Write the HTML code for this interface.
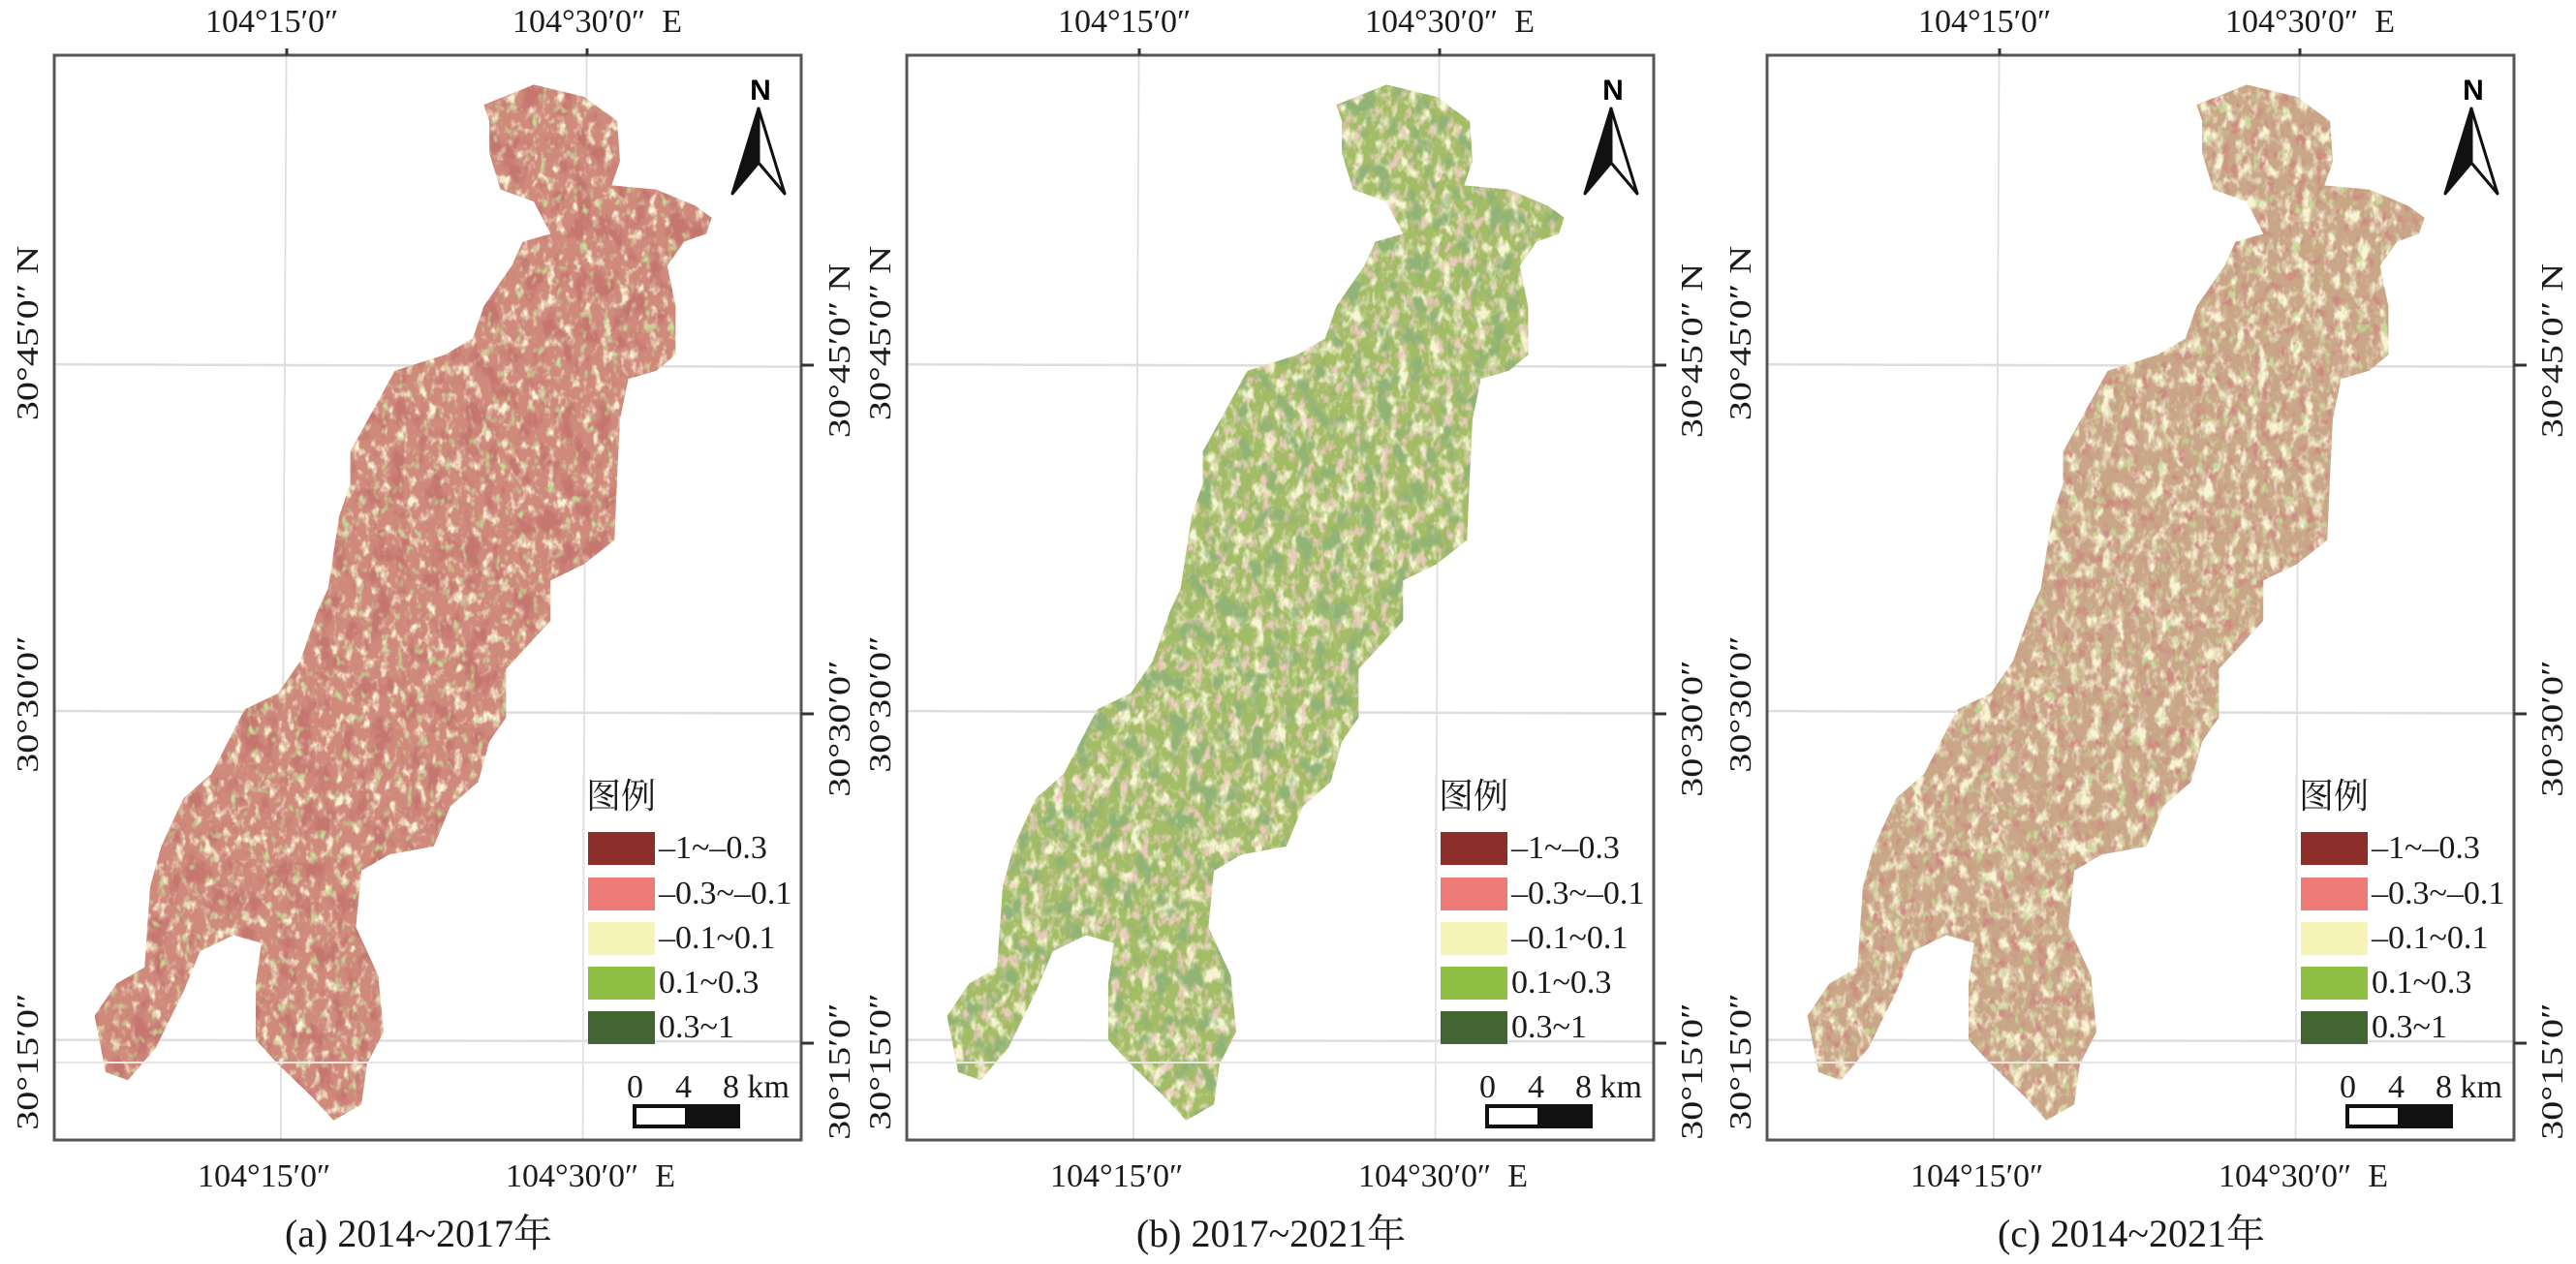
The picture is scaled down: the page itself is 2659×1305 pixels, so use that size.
<!DOCTYPE html>
<html><head><meta charset="utf-8"><style>
html,body{margin:0;padding:0;background:#fff;}
body{width:2659px;height:1305px;position:relative;overflow:hidden;font-family:"Liberation Serif","Noto Serif CJK SC",serif;color:#1a1a1a;}
.p{position:absolute;top:0;width:900px;height:1305px;}
.p svg{position:absolute;left:0;top:0;}
.t{position:absolute;font-size:32px;white-space:nowrap;line-height:1;}
.r{position:absolute;font-size:32px;white-space:nowrap;line-height:1;transform:translate(-50%,-50%) rotate(-90deg) scaleX(1.25);}
.sw{position:absolute;left:607px;width:69px;height:34px;}
.lt{position:absolute;left:680px;font-size:34px;line-height:34px;white-space:nowrap;}
</style></head><body>

<svg width="0" height="0" style="position:absolute">
<defs>
<clipPath id="shape"><path d="M870,130 L960,105 L1050,120 L1110,150 L1115,200 L1100,230 L1180,235 L1250,255 L1280,270 L1270,290 L1230,300 L1200,330 L1215,380 L1215,440 L1180,460 L1130,470 L1115,520 L1110,590 L1105,670 L1050,700 L990,720 L990,770 L950,800 L910,830 L910,890 L880,920 L860,970 L810,1000 L780,1050 L700,1060 L650,1080 L640,1150 L680,1210 L690,1280 L660,1320 L650,1370 L600,1390 L560,1360 L500,1320 L460,1290 L460,1220 L470,1170 L420,1160 L360,1180 L330,1230 L280,1300 L230,1340 L190,1330 L170,1260 L210,1220 L260,1200 L270,1100 L290,1050 L330,990 L380,960 L410,920 L440,880 L500,860 L540,820 L570,760 L590,730 L610,640 L630,600 L630,560 L670,510 L710,460 L800,440 L850,420 L870,380 L920,330 L940,300 L990,290 L960,250 L900,235 L880,190 L880,150 Z"/></clipPath>
<filter id="fa1" x="0" y="0" width="1" height="1"><feTurbulence type="fractalNoise" baseFrequency="0.03" numOctaves="3" seed="3"/><feColorMatrix type="matrix" values="0 0 0 0 0.56 0 0 0 0 0.18 0 0 0 0 0.16 5 0 0 0 -2.55"/></filter>
<filter id="fa2" x="0" y="0" width="1" height="1"><feTurbulence type="fractalNoise" baseFrequency="0.06" numOctaves="3" seed="8"/><feColorMatrix type="matrix" values="0 0 0 0 0.93 0 0 0 0 0.90 0 0 0 0 0.66 4 0 0 0 -2.1"/></filter>
<filter id="fa3" x="0" y="0" width="1" height="1"><feTurbulence type="fractalNoise" baseFrequency="0.07" numOctaves="2" seed="13"/><feColorMatrix type="matrix" values="0 0 0 0 0.55 0 0 0 0 0.72 0 0 0 0 0.30 4 0 0 0 -2.4"/></filter>
<filter id="fb1" x="0" y="0" width="1" height="1"><feTurbulence type="fractalNoise" baseFrequency="0.035" numOctaves="3" seed="5"/><feColorMatrix type="matrix" values="0 0 0 0 0.28 0 0 0 0 0.45 0 0 0 0 0.18 5 0 0 0 -2.6"/></filter>
<filter id="fb2" x="0" y="0" width="1" height="1"><feTurbulence type="fractalNoise" baseFrequency="0.06" numOctaves="3" seed="9"/><feColorMatrix type="matrix" values="0 0 0 0 0.85 0 0 0 0 0.58 0 0 0 0 0.53 4 0 0 0 -2.1"/></filter>
<filter id="fc1" x="0" y="0" width="1" height="1"><feTurbulence type="fractalNoise" baseFrequency="0.05" numOctaves="3" seed="4"/><feColorMatrix type="matrix" values="0 0 0 0 0.93 0 0 0 0 0.91 0 0 0 0 0.66 4 0 0 0 -1.9"/></filter>
<filter id="fc2" x="0" y="0" width="1" height="1"><feTurbulence type="fractalNoise" baseFrequency="0.06" numOctaves="3" seed="11"/><feColorMatrix type="matrix" values="0 0 0 0 0.62 0 0 0 0 0.25 0 0 0 0 0.22 4 0 0 0 -2.2"/></filter>
</defs></svg>

<div class="p" style="left:0px">
<svg width="900" height="1305" viewBox="0 0 1568 1568" preserveAspectRatio="none">
<line x1="515" y1="62" x2="505" y2="1413" stroke="#ddd" stroke-width="3"/>
<line x1="1055" y1="62" x2="1048" y2="1413" stroke="#ddd" stroke-width="3"/>
<line x1="97" y1="452" x2="1443" y2="455" stroke="#ddd" stroke-width="3"/>
<line x1="97" y1="882" x2="1443" y2="885" stroke="#ddd" stroke-width="3"/>
<line x1="97" y1="1290" x2="1443" y2="1292" stroke="#ddd" stroke-width="3"/>
<g clip-path="url(#shape)">
<rect x="0" y="0" width="1568" height="1568" fill="#cf8a7c"/>
<rect x="0" y="0" width="1568" height="1568" filter="url(#fa2)"/>
<rect x="0" y="0" width="1568" height="1568" filter="url(#fa1)"/>
<rect x="0" y="0" width="1568" height="1568" filter="url(#fa3)"/>
</g>
</svg>
</div>
<div class="p" style="left:880px">
<svg width="900" height="1305" viewBox="0 0 1568 1568" preserveAspectRatio="none">
<line x1="515" y1="62" x2="505" y2="1413" stroke="#ddd" stroke-width="3"/>
<line x1="1055" y1="62" x2="1048" y2="1413" stroke="#ddd" stroke-width="3"/>
<line x1="97" y1="452" x2="1443" y2="455" stroke="#ddd" stroke-width="3"/>
<line x1="97" y1="882" x2="1443" y2="885" stroke="#ddd" stroke-width="3"/>
<line x1="97" y1="1290" x2="1443" y2="1292" stroke="#ddd" stroke-width="3"/>
<g clip-path="url(#shape)">
<rect x="0" y="0" width="1568" height="1568" fill="#a3bc66"/>
<rect x="0" y="0" width="1568" height="1568" filter="url(#fc1)"/>
<rect x="0" y="0" width="1568" height="1568" filter="url(#fb2)"/>
<rect x="0" y="0" width="1568" height="1568" filter="url(#fb1)"/>
</g>
</svg>
</div>
<div class="p" style="left:1768px">
<svg width="900" height="1305" viewBox="0 0 1568 1568" preserveAspectRatio="none">
<line x1="515" y1="62" x2="505" y2="1413" stroke="#ddd" stroke-width="3"/>
<line x1="1055" y1="62" x2="1048" y2="1413" stroke="#ddd" stroke-width="3"/>
<line x1="97" y1="452" x2="1443" y2="455" stroke="#ddd" stroke-width="3"/>
<line x1="97" y1="882" x2="1443" y2="885" stroke="#ddd" stroke-width="3"/>
<line x1="97" y1="1290" x2="1443" y2="1292" stroke="#ddd" stroke-width="3"/>
<g clip-path="url(#shape)">
<rect x="0" y="0" width="1568" height="1568" fill="#c9a688"/>
<rect x="0" y="0" width="1568" height="1568" filter="url(#fc1)"/>
<rect x="0" y="0" width="1568" height="1568" filter="url(#fc2)"/>
<rect x="0" y="0" width="1568" height="1568" filter="url(#fa3)"/>
</g>
</svg>
</div>

<div id="ov"></div>
<script>
var caps=["(a) 2014~2017年","(b) 2017~2021年","(c) 2014~2021年"];
var offs=[0,880,1768];
var html="";
for(var i=0;i<3;i++){
var o=offs[i];
html+='<div class="p" style="left:'+o+'px">'+
'<svg width="900" height="1305" viewBox="0 0 900 1305">'+
'<line x1="602" y1="800" x2="602" y2="1097" stroke="#e6e6e6" stroke-width="2"/>'+
'<line x1="56" y1="1097" x2="827" y2="1097" stroke="#e6e6e6" stroke-width="2"/>'+
'<rect x="56" y="57" width="771" height="1120" fill="none" stroke="#555" stroke-width="3"/>'+
'<line x1="827" y1="377" x2="840" y2="377" stroke="#333" stroke-width="3"/>'+
'<line x1="827" y1="737" x2="840" y2="737" stroke="#333" stroke-width="3"/>'+
'<line x1="827" y1="1077" x2="840" y2="1077" stroke="#333" stroke-width="3"/>'+
'<line x1="296" y1="50" x2="296" y2="57" stroke="#333" stroke-width="3"/>'+
'<line x1="606" y1="50" x2="606" y2="57" stroke="#333" stroke-width="3"/>'+
'<polygon points="783,112 756,200 783,168" fill="#111" stroke="#111" stroke-width="3" stroke-linejoin="round"/>'+
'<polygon points="783,112 810,200 783,168" fill="#fff" stroke="#111" stroke-width="3" stroke-linejoin="round"/>'+
'<text x="785" y="103" font-family="Liberation Sans, sans-serif" font-weight="bold" font-size="30" text-anchor="middle">N</text>'+
'<rect x="655" y="1142" width="107" height="21" fill="#fff" stroke="#111" stroke-width="4"/>'+
'<rect x="707" y="1142" width="55" height="21" fill="#111"/>'+
'</svg>'+
'<div class="t" style="left:212px;top:6px;font-size:34px">104°15′0″</div>'+
'<div class="t" style="left:529px;top:6px;font-size:34px">104°30′0″&nbsp; E</div>'+
'<div class="t" style="left:204px;top:1198px;font-size:34px">104°15′0″</div>'+
'<div class="t" style="left:522px;top:1198px;font-size:34px">104°30′0″&nbsp; E</div>'+
'<div class="t" style="left:132px;width:600px;text-align:center;top:1254px;font-size:40px;font-family:\'Liberation Serif\',\'Noto Serif CJK SC\',serif">'+caps[i]+'</div>'+
'<div class="r" style="left:28px;top:344px">30°45′0″ N</div>'+
'<div class="r" style="left:28px;top:727px">30°30′0″</div>'+
'<div class="r" style="left:28px;top:1096px">30°15′0″</div>'+
'<div class="r" style="left:866px;top:362px">30°45′0″ N</div>'+
'<div class="r" style="left:866px;top:752px">30°30′0″</div>'+
'<div class="r" style="left:866px;top:1106px">30°15′0″</div>'+
'<div class="t" style="left:605px;top:802px;font-size:36px;font-family:\'Noto Serif CJK SC\',serif">图例</div>'+
'<div class="sw" style="top:859px;background:#8e2e2a"></div>'+
'<div class="sw" style="top:906px;background:#ef7b78"></div>'+
'<div class="sw" style="top:952px;background:#f6f3b6"></div>'+
'<div class="sw" style="top:998px;background:#8fbf42"></div>'+
'<div class="sw" style="top:1044px;background:#436532"></div>'+
'<div class="lt" style="top:859px">–1~–0.3</div>'+
'<div class="lt" style="top:906px">–0.3~–0.1</div>'+
'<div class="lt" style="top:952px">–0.1~0.1</div>'+
'<div class="lt" style="top:998px">0.1~0.3</div>'+
'<div class="lt" style="top:1044px">0.3~1</div>'+
'<div class="t" style="left:647px;top:1106px;font-size:34px">0</div>'+
'<div class="t" style="left:697px;top:1106px;font-size:34px">4</div>'+
'<div class="t" style="left:746px;top:1106px;font-size:34px">8 km</div>'+
'</div>';
}
document.getElementById("ov").innerHTML=html;
</script>
</body></html>
